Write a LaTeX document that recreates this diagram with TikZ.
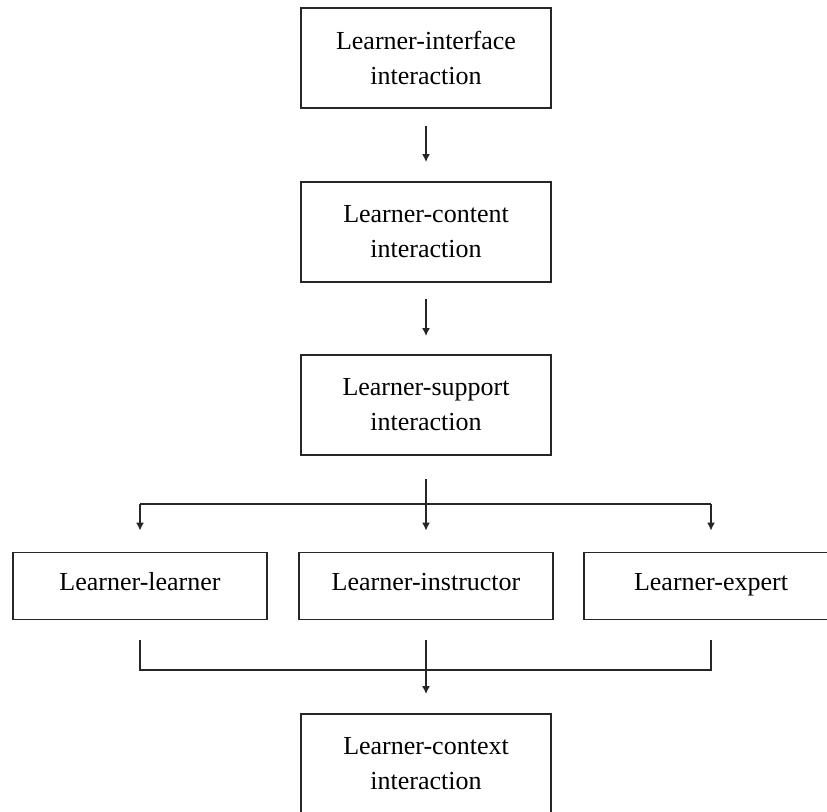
\documentclass[tikz,border=0pt]{standalone}
\usepackage{fontspec}
\setmainfont{Liberation Serif}
\usetikzlibrary{arrows.meta,positioning}
\tikzset{
  box/.style={draw=black!85, line width=1pt, minimum width=5cm, minimum height=2cm,
    align=center, font=\fontsize{14.8}{20}\selectfont},
  rowbox/.style={box, minimum width=5.08cm, minimum height=1.34cm,
    text height=1.6ex, text depth=0.5ex},
  link/.style={draw=black!85, line width=0.9pt},
  flow/.style={link, -{Latex[length=4.5pt,width=4.5pt]}}
}
\begin{document}
\begin{tikzpicture}[x=0.02cm, y=-0.02cm]
  \useasboundingbox (0,0) rectangle (827,811);
  \clip (0,0) rectangle (827,811);

  \node[box] (interface) at (426,58) {Learner-interface\\interaction};
  \node[box] (content) at (426,232) {Learner-content\\interaction};
  \node[box] (support) at (426,405) {Learner-support\\interaction};
  \node[rowbox] (instructor) at (426,586) {Learner-instructor};
  \node[rowbox] (learner) at (140,586) {Learner-learner};
  \node[rowbox] (expert) at (711,586) {Learner-expert};
  \node[box] (context) at (426,764) {Learner-context\\interaction};

  \coordinate (split) at (425,504);
  \coordinate (join) at (425,670);

  % main chain
  \draw[flow, shorten <=0.34cm, shorten >=0.38cm] (interface) -- (content);
  \draw[flow, shorten <=0.32cm, shorten >=0.36cm] (content) -- (support);

  % branching
  \draw[flow, shorten <=0.46cm, shorten >=0.42cm] (support) -- (instructor);
  \draw[link] (split -| learner) -- (split -| expert);
  \draw[flow, shorten >=0.42cm] (split -| learner) -- (learner);
  \draw[flow, shorten >=0.42cm] (split -| expert) -- (expert);

  % merging
  \draw[link, shorten <=0.4cm, shorten >=0.4cm] (learner) -- (join -| learner) -- (join -| expert) -- (expert);
  \draw[flow, shorten <=0.4cm, shorten >=0.38cm] (instructor) -- (context);
\end{tikzpicture}
\end{document}
